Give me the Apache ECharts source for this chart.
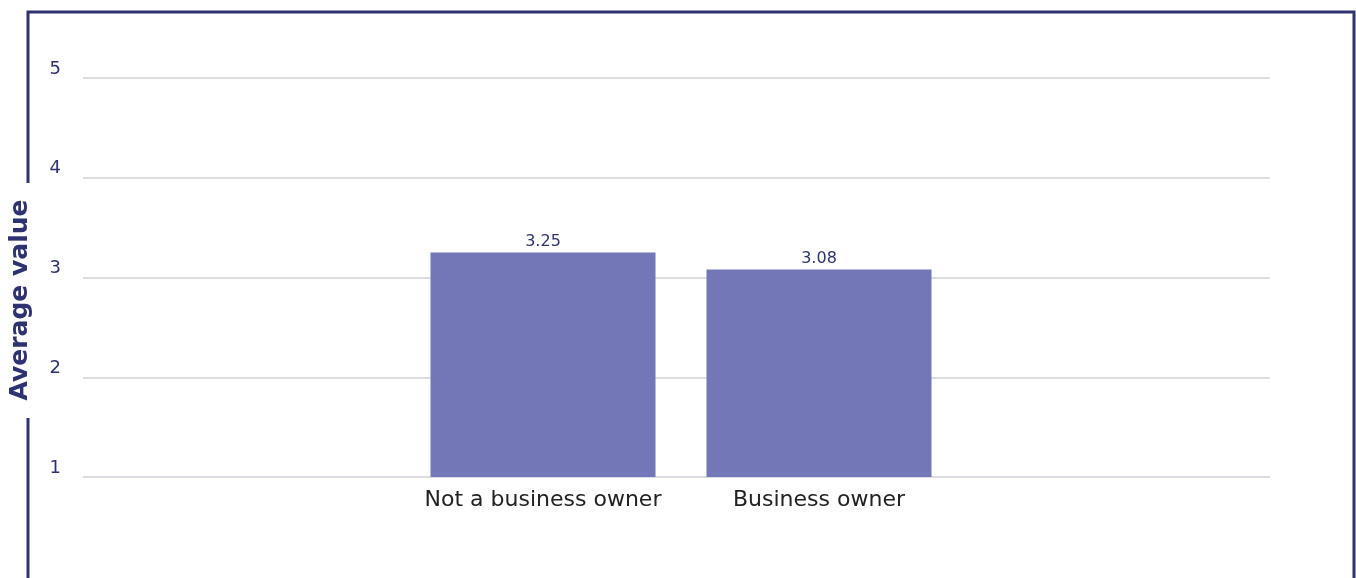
<!DOCTYPE html>
<html>
<head>
<meta charset="utf-8">
<script src="https://cdn.jsdelivr.net/npm/echarts@6/dist/echarts.min.js"></script>
<style>
  html, body { margin: 0; padding: 0; background: #fff; }
  #chart { width: 1356px; height: 578px; }
</style>
</head>
<body>
<div id="chart"></div>
<script>
const categories = ['Not a business owner', 'Business owner'];
const averageValues = [3.25, 3.08];
const yMin = 1;
const yMax = 5;

const navy = '#2e3270';
const chart = echarts.init(document.getElementById('chart'));

const option = {
  animation: false,
  textStyle: { fontFamily: '"DejaVu Sans", sans-serif' },
  grid: [
    // full-width grid for the value axis + gridlines
    { left: 83, right: 86, top: 78, bottom: 101, outerBoundsMode: 'none' },
    // narrower grid holding the two bars
    { left: 405, right: 399, top: 78, bottom: 101, outerBoundsMode: 'none' }
  ],
  xAxis: [
    { gridIndex: 0, type: 'category', data: [''], show: false },
    {
      gridIndex: 1,
      type: 'category',
      data: categories,
      axisLine: { show: false },
      axisTick: { show: false },
      axisLabel: { color: '#222', fontSize: 22, margin: 12, interval: 0, hideOverlap: false }
    }
  ],
  yAxis: [
    {
      gridIndex: 0,
      type: 'value',
      min: yMin,
      max: yMax,
      interval: 1,
      axisLine: { show: false },
      axisTick: { show: false },
      axisLabel: { color: navy, fontSize: 18, margin: 22, verticalAlign: 'bottom' },
      splitLine: { lineStyle: { color: '#dcdce4', width: 2 } }
    },
    { gridIndex: 1, type: 'value', min: yMin, max: yMax, interval: 1, show: false, splitLine: { show: false } }
  ],
  series: [
    {
      type: 'bar',
      xAxisIndex: 1,
      yAxisIndex: 1,
      data: averageValues,
      barWidth: 225,
      itemStyle: { color: '#7377b8' },
      label: {
        show: true,
        position: 'top',
        distance: 3,
        color: navy,
        fontSize: 16,
        formatter: p => p.value.toFixed(2)
      }
    }
  ],
  graphic: [
    { type: 'polyline', shape: { points: [[28, 183], [28, 12], [1354, 12], [1354, 578]] }, style: { stroke: navy, lineWidth: 3, fill: null } },
    { type: 'line', shape: { x1: 28, y1: 418, x2: 28, y2: 578 }, style: { stroke: navy, lineWidth: 3 } },
    {
      type: 'text',
      x: 20,
      y: 300,
      rotation: Math.PI / 2,
      style: { text: 'Average value', fill: navy, font: 'bold 25px "DejaVu Sans", sans-serif', align: 'center', verticalAlign: 'middle' }
    }
  ]
};

chart.setOption(option);
</script>
</body>
</html>
